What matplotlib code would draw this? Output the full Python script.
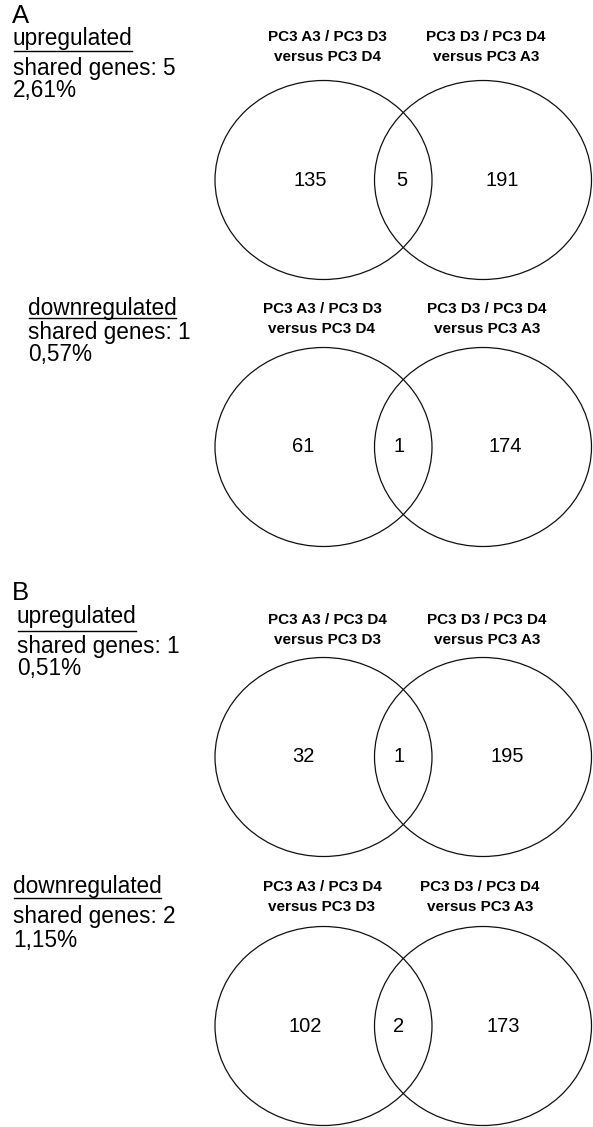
import matplotlib.pyplot as plt
from matplotlib.patches import Ellipse

# Venn counts per panel (A up, A down, B up, B down)
panel_letters = ['A', '', 'B', '']
regulation = ['upregulated', 'downregulated', 'upregulated', 'downregulated']
shared_genes = [5, 1, 1, 2]
shared_pct = ['2,61%', '0,57%', '0,51%', '1,15%']
only_left = [135, 61, 32, 102]
only_right = [191, 174, 195, 173]
left_set = [('PC3 A3 / PC3 D3', 'versus PC3 D4'),
            ('PC3 A3 / PC3 D3', 'versus PC3 D4'),
            ('PC3 A3 / PC3 D4', 'versus PC3 D3'),
            ('PC3 A3 / PC3 D4', 'versus PC3 D3')]
right_set = [('PC3 D3 / PC3 D4', 'versus PC3 A3')] * 4

# layout in pixels (figure is 593 x 1127)
W, H = 593, 1127
venn_cy = [180, 447, 757, 1026]
title_y = [37, 309, 620, 887]
title_x = [(327, 486), (322, 487), (327, 487), (322, 480)]
count_x = [(310, 402, 502), (303, 399, 505), (303, 399, 507), (305, 399, 503)]
block_x = [13, 28, 17, 13]
letter_y = [16, 0, 593, 0]
text_rows = [(38, 68, 90), (309, 332, 354), (617, 647, 668), (887, 917, 940)]
underline_y = [51, 318, 631, 898]

fig = plt.figure(figsize=(W / 100, H / 100), dpi=100)
ax = fig.add_axes([0, 0, 1, 1])
ax.set_xlim(0, W)
ax.set_ylim(H, 0)
ax.axis('off')

font = 'Liberation Sans'
headers = []
for i in range(4):
    cy = venn_cy[i]
    for cx in (323.5, 483):
        ax.add_patch(Ellipse((cx, cy), 217, 199, fill=False, lw=0.9, ec='#111111'))
    for x, v in zip(count_x[i], (only_left[i], shared_genes[i], only_right[i])):
        ax.text(x, cy, str(v), ha='center', va='center', fontsize=14.5, family=font)

    for tx, lines in zip(title_x[i], (left_set[i], right_set[i])):
        ax.text(tx, title_y[i], lines[0], ha='center', va='center',
                fontsize=11, weight='bold', family=font)
        ax.text(tx, title_y[i] + 20, lines[1], ha='center', va='center',
                fontsize=11, weight='bold', family=font)

    if panel_letters[i]:
        ax.text(12, letter_y[i], panel_letters[i], ha='left', va='center',
                fontsize=18.5, family=font)
    r0, r1, r2 = text_rows[i]
    t = ax.text(block_x[i], r0, regulation[i], ha='left', va='center',
                fontsize=16.3, family=font)
    headers.append(t)
    ax.text(block_x[i], r1, f'shared genes: {shared_genes[i]}', ha='left',
            va='center', fontsize=16.3, family=font)
    ax.text(block_x[i], r2, shared_pct[i], ha='left', va='center',
            fontsize=16.3, family=font)

# underline the regulation headers
fig.canvas.draw()
inv = ax.transData.inverted()
for i, t in enumerate(headers):
    bb = t.get_window_extent()
    x0 = inv.transform((bb.x0, bb.y0))[0]
    x1 = inv.transform((bb.x1, bb.y0))[0]
    ax.plot([x0 + 1, x1 - 1], [underline_y[i]] * 2, color='black', lw=1.0)

fig.savefig('out.png', dpi=100)
